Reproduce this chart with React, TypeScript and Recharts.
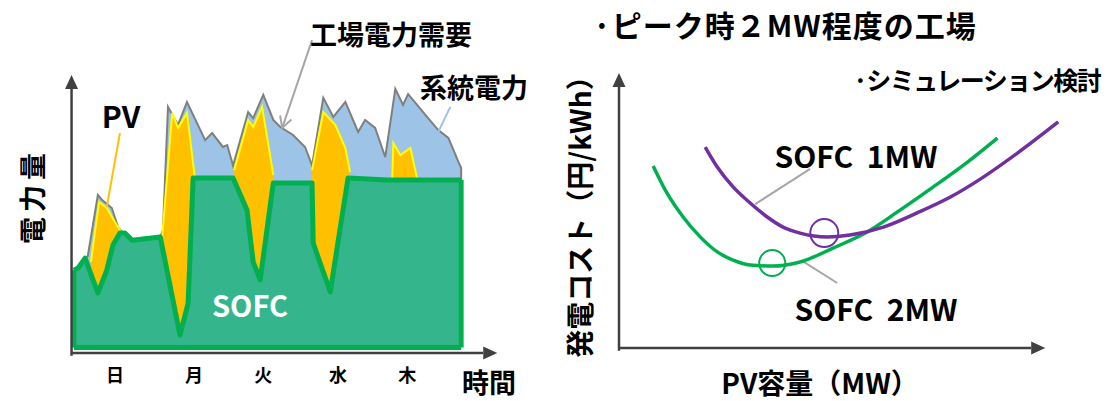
import { ComposedChart, LineChart, Area, Line, XAxis, YAxis, ReferenceLine, ReferenceDot } from 'recharts';

// left chart: weekly power profile (x = time, y = power)
const demandX = [0, 1.1, 2.9, 3.6, 6.2, 7.3, 9.8, 11.4, 12.4, 13.2, 15.0, 22.3, 23.0, 24.3, 26.9, 29.2, 33.9, 35.7, 38.5, 39.6, 41.1, 45.0, 46.3, 48.9, 51.5, 53.3, 56.6, 59.7, 61.5, 64.4, 67.0, 70.1, 73.4, 75.2, 77.8, 80.4, 83.0, 85.0, 86.3, 91.2, 94.1, 96.7, 99.3, 100, 100];
const demandY = [28.4, 29.2, 32.8, 33.6, 56.0, 54.1, 51.2, 44.2, 42.4, 42.0, 39.4, 40.6, 43.1, 88.3, 81.7, 90.1, 76.1, 78.7, 73.6, 74.3, 66.8, 86.4, 84.2, 92.7, 83.5, 80.9, 78.0, 73.6, 66.8, 91.6, 84.6, 90.1, 79.1, 83.5, 80.6, 69.9, 94.9, 89.0, 93.0, 84.6, 79.8, 76.9, 68.1, 65.9, 61.5];

// PV top (SOFC + PV), null between sunny spells
const pvX = [4.4, 6.5, 8.5, 10.6, 12.2, 17, 22.8, 25.4, 26.9, 29.2, 31.3, 36, 41.4, 45.0, 46.3, 48.6, 51.5, 56, 61.5, 64.4, 67.5, 70.1, 71.3, 77, 82.2, 82.5, 84.3, 86.9, 88.7];
const pvY = [31.4, 53.4, 51.2, 46.1, 42.4, null, 40.6, 86.1, 80.6, 86.1, 61.5, null, 65.1, 83.5, 80.9, 88.3, 63.3, null, 65.1, 86.4, 81.7, 73.2, 64.4, null, 61.5, 75.0, 70.6, 73.2, 61.5];

const sofcX = [0, 1.1, 2.9, 6.2, 8.5, 10.1, 11.9, 13.2, 15.0, 22.3, 27.4, 29.5, 30.8, 41.1, 44.7, 46.3, 48.1, 51.5, 61.5, 61.8, 66.2, 70.8, 80.9, 100];
const sofcY = [28.4, 29.2, 32.8, 20.0, 28.4, 37.6, 42.0, 42.0, 39.4, 40.6, 4.6, 16.3, 62.2, 62.2, 50.5, 31.4, 24.8, 60.4, 60.4, 38.3, 20.4, 62.2, 61.5, 61.5];

const dayTicks = [10.6, 31.0, 48.9, 68.2, 86.1];
const dayLabels = ['日', '月', '火', '水', '木'];

// right chart: generation cost vs PV capacity
const sofc2X = [8.2, 11.5, 15.4, 19.5, 23.6, 27.4, 31.5, 37.0, 43.5, 51.4, 59.6, 67.5, 75.5, 83.7, 90.9];
const sofc2Y = [66.7, 56.8, 48.0, 40.7, 35.2, 32.2, 30.4, 30.0, 31.5, 36.6, 42.5, 50.5, 59.0, 68.1, 76.9];
const sofc1X = [20.7, 23.6, 27.4, 31.5, 35.6, 39.4, 43.5, 50.0, 55.5, 63.5, 71.6, 79.6, 87.5, 95.7, 105.5];
const sofc1Y = [73.6, 66.3, 59.0, 53.1, 48.0, 44.3, 42.1, 40.7, 41.4, 44.3, 49.5, 55.3, 62.6, 71.4, 82.8];
const optimum1 = { x: 49.3, y: 42.1 };
const optimum2 = { x: 36.8, y: 31.1 };

const toPts = (xs: number[], ys: (number | null)[]) => xs.map((x, i) => ({ x, y: ys[i] }));

const FONT = '"Noto Sans CJK JP", "Noto Sans", sans-serif';
const AXIS = '#404040';

const arrowLine = (color: string, width: number, marker?: string) => (p: any) => (
  <line x1={p.x1} y1={p.y1} x2={p.x2} y2={p.y2} stroke={color} strokeWidth={width}
    markerEnd={marker ? `url(#${marker})` : undefined} />
);

function Note({ x, y, size, children, color = '#000', anchor = 'middle', rotate = 0, spacing = 0 }: any) {
  return (
    <div style={{
      position: 'absolute', left: x, top: y,
      transform: `translate(${anchor === 'start' ? '0' : '-50%'}, -50%) rotate(${rotate}deg)`,
      fontSize: size, fontWeight: 700, color, fontFamily: FONT, lineHeight: 1,
      whiteSpace: 'pre', letterSpacing: spacing,
    }}>
      {children}
    </div>
  );
}

export default function App() {
  const sofc = toPts(sofcX, sofcY);
  const last = sofc.length - 1;

  return (
    <div style={{ position: 'absolute', left: 0, top: 0, width: 1107, height: 401, background: '#fff', fontFamily: FONT, overflow: 'hidden' }}>
      <svg width={0} height={0} style={{ position: 'absolute' }}>
        <defs>
          <marker id="axArrow" markerUnits="userSpaceOnUse" markerWidth={15} markerHeight={15} refX={0} refY={7} orient="auto" overflow="visible">
            <path d="M0,0.5 L14,7 L0,13.5 Z" fill={AXIS} />
          </marker>
          <marker id="greyArrow" markerUnits="userSpaceOnUse" markerWidth={14} markerHeight={14} refX={11} refY={6} orient="auto" overflow="visible">
            <path d="M0,0 L11,6 L0,12" fill="none" stroke="#A6A6A6" strokeWidth={2} />
          </marker>
        </defs>
      </svg>

      <div style={{ position: 'absolute', left: 0, top: 0 }}>
        <ComposedChart width={560} height={401} margin={{ top: 75, right: 64, bottom: 18, left: 70 }}>
          <XAxis type="number" dataKey="x" domain={[-1, 109]} allowDataOverflow ticks={dayTicks} interval={0}
            tickFormatter={(v) => dayLabels[dayTicks.indexOf(v)]}
            axisLine={false} tickLine={false} tickSize={0} tickMargin={16} height={30}
            tick={{ fill: '#000', fontSize: 18, fontWeight: 700 }} />
          <YAxis type="number" domain={[-2, 100]} allowDataOverflow hide />
          <Area data={toPts(demandX, demandY)} dataKey="y" type="linear" fill="#9DC3E6" fillOpacity={1}
            stroke="#7F7F7F" strokeWidth={2} isAnimationActive={false} />
          <Area data={toPts(pvX, pvY)} dataKey="y" type="linear" fill="#FFC000" fillOpacity={1}
            stroke="#FFFF00" strokeWidth={2} isAnimationActive={false} />
          <Area data={sofc} dataKey="y" type="linear" fill="#35B58C" fillOpacity={1}
            stroke="#00B050" strokeWidth={5} strokeLinejoin="round" isAnimationActive={false} />
          <ReferenceLine ifOverflow="visible" segment={[{ x: sofc[0].x, y: 0 }, { x: sofc[last].x, y: 0 }]} stroke="#00B050" strokeWidth={5} />
          <ReferenceLine ifOverflow="visible" segment={[{ x: sofc[0].x, y: 0 }, { x: sofc[0].x, y: sofc[0].y }]} stroke="#00B050" strokeWidth={5} />
          <ReferenceLine ifOverflow="visible" segment={[{ x: sofc[last].x, y: 0 }, { x: sofc[last].x, y: sofc[last].y }]} stroke="#00B050" strokeWidth={5} />
          <ReferenceLine ifOverflow="visible" segment={[{ x: -0.6, y: -2 }, { x: 105.7, y: -2 }]} shape={arrowLine(AXIS, 2.5, 'axArrow')} />
          <ReferenceLine ifOverflow="visible" segment={[{ x: -0.6, y: -3 }, { x: -0.6, y: 94.9 }]} shape={arrowLine(AXIS, 2.5, 'axArrow')} />
          <ReferenceLine ifOverflow="visible" segment={[{ x: 11.9, y: 78.7 }, { x: 8.5, y: 51.6 }]} shape={arrowLine('#FFC000', 2)} />
          <ReferenceLine ifOverflow="visible" segment={[{ x: 61.5, y: 112.8 }, { x: 53.8, y: 80.6 }]} shape={arrowLine('#A6A6A6', 2, 'greyArrow')} />
          <ReferenceLine ifOverflow="visible" segment={[{ x: 97.2, y: 88.3 }, { x: 94.1, y: 79.1 }]} shape={arrowLine('#9DC3E6', 2)} />
        </ComposedChart>
      </div>

      <div style={{ position: 'absolute', left: 560, top: 0 }}>
        <LineChart width={547} height={401} margin={{ top: 75, right: 30, bottom: 53, left: 59 }}>
          <XAxis type="number" dataKey="x" domain={[0, 110]} allowDataOverflow hide />
          <YAxis type="number" dataKey="y" domain={[0, 100]} allowDataOverflow hide />
          <ReferenceLine ifOverflow="visible" segment={[{ x: 0, y: 0 }, { x: 99.0, y: 0 }]} shape={arrowLine(AXIS, 2.5, 'axArrow')} />
          <ReferenceLine ifOverflow="visible" segment={[{ x: 0, y: -1 }, { x: 0, y: 95.6 }]} shape={arrowLine(AXIS, 2.5, 'axArrow')} />
          <ReferenceLine ifOverflow="visible" segment={[{ x: 45.9, y: 65.6 }, { x: 32.7, y: 52.7 }]} shape={arrowLine('#A6A6A6', 2)} />
          <ReferenceLine ifOverflow="visible" segment={[{ x: 52.4, y: 23.8 }, { x: 44.0, y: 31.9 }]} shape={arrowLine('#A6A6A6', 2)} />
          <Line data={toPts(sofc2X, sofc2Y)} dataKey="y" type="monotone" stroke="#00B050" strokeWidth={3.5} dot={false} isAnimationActive={false} />
          <Line data={toPts(sofc1X, sofc1Y)} dataKey="y" type="monotone" stroke="#7030A0" strokeWidth={3.5} dot={false} isAnimationActive={false} />
          <ReferenceDot ifOverflow="visible" x={optimum1.x} y={optimum1.y} r={14} fill="none" stroke="#7030A0" strokeWidth={2} />
          <ReferenceDot ifOverflow="visible" x={optimum2.x} y={optimum2.y} r={13} fill="none" stroke="#00B050" strokeWidth={2} />
        </LineChart>
      </div>

      {/* left chart annotations */}
      <Note x={31} y={196} size={27} rotate={-90} spacing={5}>電力量</Note>
      <Note x={121} y={115} size={30}>PV</Note>
      <Note x={391} y={33} size={27}>工場電力需要</Note>
      <Note x={474} y={86} size={27}>系統電力</Note>
      <Note x={250} y={304} size={29} color="#fff">SOFC</Note>
      <Note x={489} y={381} size={27}>時間</Note>

      {/* right chart annotations */}
      <Note x={593} y={24} size={30} anchor="start" spacing={1}>{'\u00b7ピーク時２MW程度の工場'}</Note>
      <Note x={853} y={79} size={25} anchor="start" spacing={-1.5}>{'\u00b7シミュレーション検討'}</Note>
      <Note x={579} y={210} size={28} rotate={-90}>発電コスト（円/kWh）</Note>
      <Note x={856} y={155} size={30}>{'SOFC\u00a0\u00a01MW'}</Note>
      <Note x={876} y={308} size={30}>{'SOFC\u00a0\u00a02MW'}</Note>
      <Note x={820} y={382} size={28}>PV容量（MW）</Note>
    </div>
  );
}
